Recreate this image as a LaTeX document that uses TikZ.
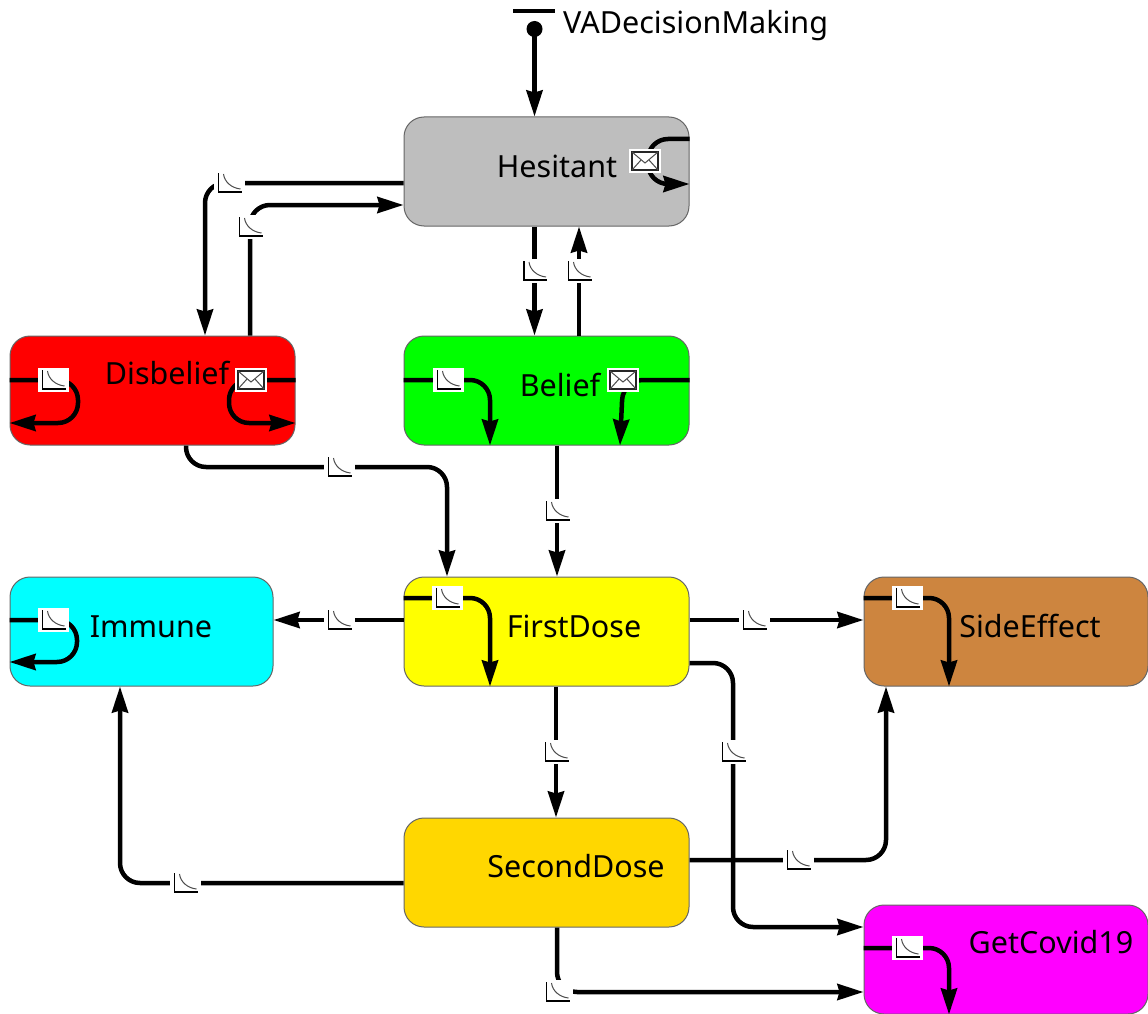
\documentclass[tikz,border=0pt]{standalone}
\usepackage{fontspec}
\setmainfont{Noto Sans}
\usetikzlibrary{arrows.meta,calc}
\pgfdeclarelayer{bg}\pgfdeclarelayer{fg}\pgfsetlayers{bg,main,fg}
\definecolor{peruc}{HTML}{CD853F}
\definecolor{goldc}{HTML}{FFD700}
\definecolor{redc}{HTML}{FF0000}
\definecolor{greenc}{HTML}{00FF00}
\definecolor{yellowc}{HTML}{FFFF00}
\definecolor{cyanc}{HTML}{00FFFF}
\definecolor{magentac}{HTML}{FF00FF}
\definecolor{greyc}{HTML}{BEBEBE}
\tikzset{
 statebox/.style={draw=black!60,line width=1pt,rounded corners=20pt,minimum height=109pt,inner sep=0pt},
 lbl/.style={inner sep=0pt,font=\fontsize{30.5}{33}\selectfont,text=black},
 flow/.style={draw=black,line width=4.5pt,rounded corners=20pt,-{Stealth[length=26pt,width=16pt,inset=2pt]}},
 rate/.style={fill=white,inner sep=0pt,minimum width=31pt,minimum height=24pt,path picture={
   \draw[line width=1.4pt,black] ($(path picture bounding box.north west)+(5,2)$) -- ($(path picture bounding box.south west)+(5,-3)$) -- ($(path picture bounding box.south east)+(-3,-3)$);
   \draw[line width=1pt,black!70] ($(path picture bounding box.north west)+(10,3)$) .. controls +(1,8) and +(-9,-1) .. ($(path picture bounding box.south east)+(-4,-6)$);
 }},
 mail/.style={fill=white,inner sep=0pt,minimum width=32pt,minimum height=24pt,path picture={
   \draw[line width=1.4pt,black!85] ($(path picture bounding box.north west)+(3,3)$) rectangle ($(path picture bounding box.south east)+(-3,-3)$);
   \draw[line width=1pt,black!70] ($(path picture bounding box.north west)+(3,3)$) -- ($(path picture bounding box.center)+(0,2)$) -- ($(path picture bounding box.north east)+(-3,3)$);
   \draw[line width=1pt,black!70] ($(path picture bounding box.south west)+(3,-3)$) -- ($(path picture bounding box.center)+(-4,-1)$);
   \draw[line width=1pt,black!70] ($(path picture bounding box.south east)+(-3,-3)$) -- ($(path picture bounding box.center)+(4,-1)$);
 }},
}
\begin{document}
\begin{tikzpicture}[x=1pt,y=-1pt]
\useasboundingbox (0,0) rectangle (1148,1014);
\begin{pgfonlayer}{bg}
\node[statebox,fill=greyc,minimum width=285pt] (hes) at (546.5,171.5) {};
\node[statebox,fill=redc,minimum width=285pt] (dis) at (152.5,390.5) {};
\node[statebox,fill=greenc,minimum width=285pt] (bel) at (546.5,390.5) {};
\node[statebox,fill=yellowc,minimum width=285pt] (fir) at (546.5,631.5) {};
\node[statebox,fill=cyanc,minimum width=263pt] (imm) at (141.5,631.5) {};
\node[statebox,fill=peruc,minimum width=284pt] (sid) at (1006,631.5) {};
\node[statebox,fill=goldc,minimum width=285pt] (sec) at (546.5,872.5) {};
\node[statebox,fill=magentac,minimum width=284pt] (cov) at (1006,959.5) {};
\end{pgfonlayer}
\begin{pgfonlayer}{fg}
\node[lbl] (thes) at (557,166) {Hesitant};
\node[lbl] (tdis) at (167,373) {Disbelief};
\node[lbl] (tbel) at (560,385) {Belief};
\node[lbl] (tfir) at (574,626) {FirstDose};
\node[lbl] (timm) at (151,627) {Immune};
\node[lbl] (tsid) at (1030,626) {SideEffect};
\node[lbl] (tsec) at (576,866) {SecondDose};
\node[lbl] (tcov) at (1051,942) {GetCovid19};
\node[lbl,anchor=west] (tvad) at (563,26) {VADecisionMaking};
\node[mail] (m1) at (645,161) {};
\node[rate] (r1) at (229,183) {};
\node[rate] (r2) at (250,227) {};
\node[rate] (r3) at (534.5,271) {};
\node[rate] (r4) at (579,271) {};
\node[rate] (r5) at (53,380) {};
\node[mail] (m2) at (251,380) {};
\node[rate] (r6) at (448,380) {};
\node[mail] (m3) at (623,380) {};
\node[rate] (r7) at (339,467) {};
\node[rate] (r8) at (557,511) {};
\node[rate] (r9) at (339,620) {};
\node[rate] (r10) at (447,598) {};
\node[rate] (r11) at (53,620) {};
\node[rate] (r12) at (754,620) {};
\node[rate] (r13) at (907,598) {};
\node[rate] (r14) at (556,752) {};
\node[rate] (r15) at (733,752) {};
\node[rate] (r16) at (185,883) {};
\node[rate] (r17) at (798,860) {};
\node[rate] (r18) at (557,992) {};
\node[rate] (r19) at (907,948) {};
\end{pgfonlayer}
% initial marker
\node[circle,fill=black,minimum size=16pt,inner sep=0pt] (init) at (534.5,29) {};
\draw[line width=4.5pt] (513,11) -- (555,11);
\draw[flow] (init.center) -- (hes.north -| init.center);
% Hesitant
\draw[flow] (hes.west |- r1.center) -- (205,183) -- (dis.north -| 205,0);
\draw[flow] (dis.north -| r2.center) -- (250,205) -- (hes.west |- 0,205);
\draw[flow] (hes.south -| r3.center) -- (r3.center) -- (bel.north -| r3.center);
\draw[flow] (bel.north -| r4.center) -- (r4.center) -- (hes.south -| r4.center);
\draw[flow] (hes.east |- 0,139) -- (648,139) -- (648,184) -- (hes.east |- 0,184);
% Disbelief
\draw[flow] (dis.west |- r5.center) -- (78,380) -- (78,423) -- (dis.west |- 0,423);
\draw[flow] (dis.east |- m2.center) -- (229,380) -- (229,423) -- (dis.east |- 0,423);
\draw[flow] (dis.south -| 186,0) -- (186,467) -- (447,467) -- (fir.north -| 447,0);
% Belief
\draw[flow] (bel.west |- r6.center) -- (490,380) -- (bel.south -| 490,0);
\draw[flow] (bel.east |- m3.center) -- (623,380) -- (bel.south -| 620,0);
\draw[flow] (bel.south -| r8.center) -- (fir.north -| r8.center);
% FirstDose
\draw[flow] (fir.west |- r9.center) -- (imm.east |- r9.center);
\draw[flow] (fir.west |- r10.center) -- (490,598) -- (fir.south -| 490,0);
\draw[flow] (fir.east |- r12.center) -- (sid.west |- r12.center);
\draw[flow] (fir.east |- 0,663) -- (733,663) -- (733,927) -- (cov.west |- 0,927);
\draw[flow] (fir.south -| r14.center) -- (r14.center) -- (sec.north -| r14.center);
% Immune
\draw[flow] (imm.west |- r11.center) -- (77,620) -- (77,662) -- (imm.west |- 0,662);
% SideEffect
\draw[flow] (sid.west |- r13.center) -- (949,598) -- (sid.south -| 949,0);
% SecondDose
\draw[flow] (sec.west |- r16.center) -- (120,883) -- (imm.south -| 120,0);
\draw[flow] (sec.east |- r17.center) -- (886,860) -- (sid.south -| 886,0);
\draw[flow] (sec.south -| r18.center) -- (557,992) -- (cov.west |- r18.center);
% GetCovid19
\draw[flow] (cov.west |- r19.center) -- (949,948) -- (cov.south -| 949,0);
\end{tikzpicture}
\end{document}
